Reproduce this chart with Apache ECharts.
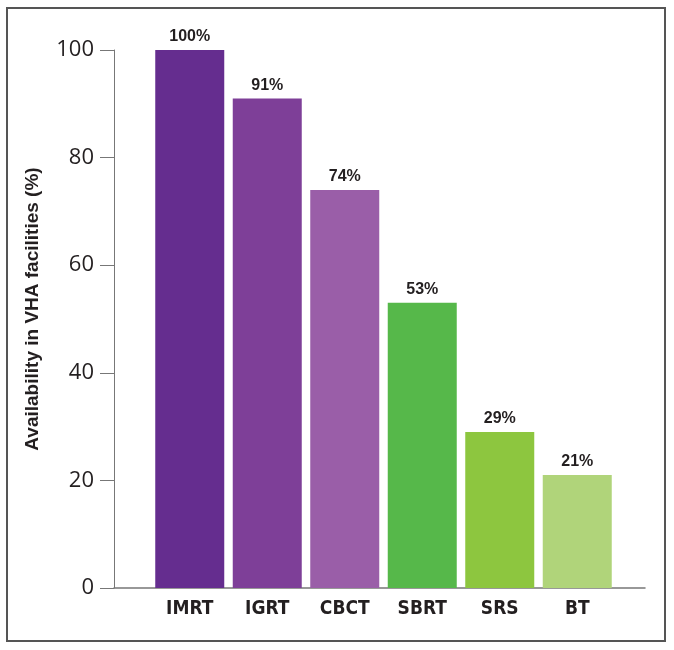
<!DOCTYPE html>
<html>
<head>
<meta charset="utf-8">
<script src="https://cdn.jsdelivr.net/npm/echarts@6/dist/echarts.min.js"></script>
<style>
html,body{margin:0;padding:0;background:#fff;}
#c{width:674px;height:650px;}
</style>
</head>
<body>
<div id="c"></div>
<script>
const categories = ['IMRT', 'IGRT', 'CBCT', 'SBRT', 'SRS', 'BT'];
const values = [100, 91, 74, 53, 29, 21];
const barColors = ['#652d8f', '#7e3f98', '#9a5ea8', '#56b84a', '#8dc63f', '#b0d47a'];
const yTicks = [0, 20, 40, 60, 80, 100];
const yAxisName = 'Availability in VHA facilities (%)';

const chart = echarts.init(document.getElementById('c'), null, {renderer: 'canvas'});
const txt = '#231f20';
chart.setOption({
  animation: false,
  backgroundColor: '#fff',
  graphic: [{
    type: 'rect',
    shape: {x: 7, y: 8, width: 658, height: 633},
    style: {fill: 'none', stroke: '#555', lineWidth: 2}
  }],
  grid: [
    {left: 114, right: 29, top: 50, bottom: 62},
    {left: 151, right: 58, top: 50, bottom: 62}
  ],
  xAxis: [
    {
      gridIndex: 0, type: 'value', min: 0, max: 1,
      axisLine: {show: true, lineStyle: {color: '#777', width: 1.5}},
      axisTick: {show: false}, axisLabel: {show: false}, splitLine: {show: false}
    },
    {
      gridIndex: 1, type: 'category', data: categories,
      axisLine: {show: false}, axisTick: {show: false}, splitLine: {show: false},
      axisLabel: {
        margin: 12, color: txt, fontSize: 19, fontWeight: 'bold',
        fontFamily: '"Liberation Sans Narrow", "DejaVu Sans Condensed", "Liberation Sans", sans-serif'
      }
    }
  ],
  yAxis: [
    {
      gridIndex: 0, type: 'value', min: 0, max: 100, interval: 20,
      data: yTicks,
      axisLine: {show: true, lineStyle: {color: '#777', width: 1}},
      axisTick: {show: true, inside: false, length: 14, lineStyle: {color: '#777', width: 1}},
      splitLine: {show: false},
      axisLabel: {margin: 20, color: txt, fontSize: 22, fontFamily: '"Open Sans", sans-serif', fontWeight: 'normal'},
      name: yAxisName, nameLocation: 'middle', nameRotate: 90, nameGap: 72,
      nameTextStyle: {
        color: txt, fontSize: 19, fontWeight: 'bold',
        fontFamily: '"Liberation Sans", Arial, sans-serif',
        padding: [0, 0, 0, 20]
      }
    },
    {
      gridIndex: 1, type: 'value', min: 0, max: 100, show: false
    }
  ],
  series: [{
    type: 'bar',
    xAxisIndex: 1, yAxisIndex: 1,
    barWidth: 69,
    data: values.map((v, i) => ({value: v, itemStyle: {color: barColors[i]}})),
    label: {
      show: true, position: 'top', distance: 5,
      formatter: '{c}%', color: txt, fontSize: 16, fontWeight: 'bold',
      fontFamily: '"Liberation Sans", Arial, sans-serif'
    }
  }]
});
</script>
</body>
</html>
